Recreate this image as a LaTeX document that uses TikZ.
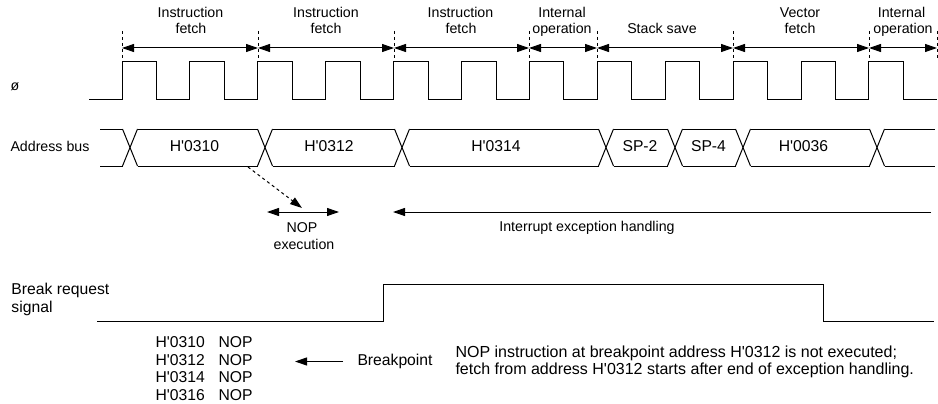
\documentclass[tikz,border=0pt]{standalone}
\usepackage{fontspec}
\newfontfamily\arialf{Liberation Sans}
\usetikzlibrary{arrows.meta}
\begin{document}
\begin{tikzpicture}[x=1pt,y=-1pt, line width=1pt,
  lbl/.style={inner sep=0pt, font=\arialf\fontsize{14.2}{16}\selectfont, text height=0.72em, text depth=0pt},
  big/.style={lbl, font=\arialf\fontsize{15.7}{17}\selectfont},
  note/.style={lbl, anchor=west, font=\arialf\fontsize{16}{18}\selectfont},
  lbll/.style={lbl, anchor=west},
  bigl/.style={big, anchor=west},
  tip/.style={-{Triangle[length=12pt,width=8pt]}},
  dtip/.style={{Triangle[length=12pt,width=8pt]}-{Triangle[length=12pt,width=8pt]}},
  marker/.style={line width=0.8pt, dash pattern=on 3pt off 3pt}]
\useasboundingbox (0,0) rectangle (938,404);

% ---- phase markers and arrows
\foreach \x [count=\i from 0] in {122,258,394,529,597,733,869,937}{
  \coordinate (m\i) at (\x,48);
  \draw[marker] (\x,31) -- (\x,60);
}
\draw[dtip] (m0) -- (m1);
\draw[dtip] (m1) -- (m2);
\draw[dtip] (m2) -- (m3);
\draw[dtip] (m3) -- (m4);
\draw[dtip] (m4) -- (m5);
\draw[dtip] (m5) -- (m6);
\draw[dtip] (m6) -- (m7);

\node[lbl] (p1a) at (190.5,14) {Instruction};
\node[lbl] (p1b) at (191,30) {fetch};
\node[lbl] (p2a) at (326,14) {Instruction};
\node[lbl] (p2b) at (326,30) {fetch};
\node[lbl] (p3a) at (460.5,14) {Instruction};
\node[lbl] (p3b) at (461,30) {fetch};
\node[lbl] (p4a) at (562,14) {Internal};
\node[lbl] (p4b) at (562,30) {operation};
\node[lbl] (p5) at (662,30) {Stack save};
\node[lbl] (p6a) at (800,14) {Vector};
\node[lbl] (p6b) at (800,30) {fetch};
\node[lbl] (p7a) at (901.5,14) {Internal};
\node[lbl] (p7b) at (903,30) {operation};

% ---- clock
\node[lbll] (phi) at (10,87) {ø};
\draw (89,100) foreach \k in {0,...,11} {
  -- ({122+67.9*\k},100) -- ({122+67.9*\k},62) -- ({156.5+67.9*\k},62) -- ({156.5+67.9*\k},100) } -- (937,100);

% ---- address bus
\node[lbll] (ab) at (10,147.5) {Address bus};
\foreach \a/\b in {100/122.5,137.5/257.5,272.5/394.5,409.5/598.5,613.5/667.5,682.5/735.5,750.5/869.5,884.5/935}{
  \draw (\a,129) -- (\b,129);
  \draw (\a,166) -- (\b,166);
}
\foreach \c in {130,265,402,606,675,743,877}{
  \draw (\c-7.5,129) -- (\c+7.5,166);
  \draw (\c-7.5,166) -- (\c+7.5,129);
}
\node[big] (a1) at (194.5,147.5) {H'0310};
\node[big] (a2) at (329,147.5) {H'0312};
\node[big] (a3) at (496,147.5) {H'0314};
\node[big] (a4) at (640,147.5) {SP-2};
\node[big] (a5) at (708.5,147.5) {SP-4};
\node[big] (a6) at (803.5,147.5) {H'0036};

% ---- NOP execution
\coordinate (d0) at (248,167);
\coordinate (d1) at (302,208);
\draw[tip, dashed] (d0) -- (d1);
\coordinate (n0) at (267,212);
\coordinate (n1) at (339,212);
\draw[dtip] (n0) -- (n1);
\node[lbl] (nop1) at (302,229) {NOP};
\node[lbl] (nop2) at (304,246) {execution};

% ---- interrupt exception handling
\coordinate (i0) at (931,212);
\coordinate (i1) at (393,212);
\draw[tip] (i0) -- (i1);
\node[lbl] (ieh) at (587,228) {Interrupt exception handling};

% ---- break request
\node[bigl] (br1) at (11,291) {Break request};
\node[bigl] (br2) at (11,308.5) {signal};
\draw (97,321) -- (383,321) -- (383,284) -- (823,284) -- (823,321) -- (934,321);

% ---- program listing
\foreach \y/\ad in {344/H'0310,361.5/H'0312,379/H'0314,396.5/H'0316}{
  \node[bigl] at (155,\y) {\ad};
  \node[bigl] at (218,\y) {NOP};
}
\coordinate (b0) at (343,361.5);
\coordinate (b1) at (295,361.5);
\draw[tip] (b0) -- (b1);
\node[bigl] (bp) at (357,361.5) {Breakpoint};
\node[note] (note1) at (455,354) {NOP instruction at breakpoint address H'0312 is not executed;};
\node[note] (note2) at (455,370.5) {fetch from address H'0312 starts after end of exception handling.};
\end{tikzpicture}
\end{document}
